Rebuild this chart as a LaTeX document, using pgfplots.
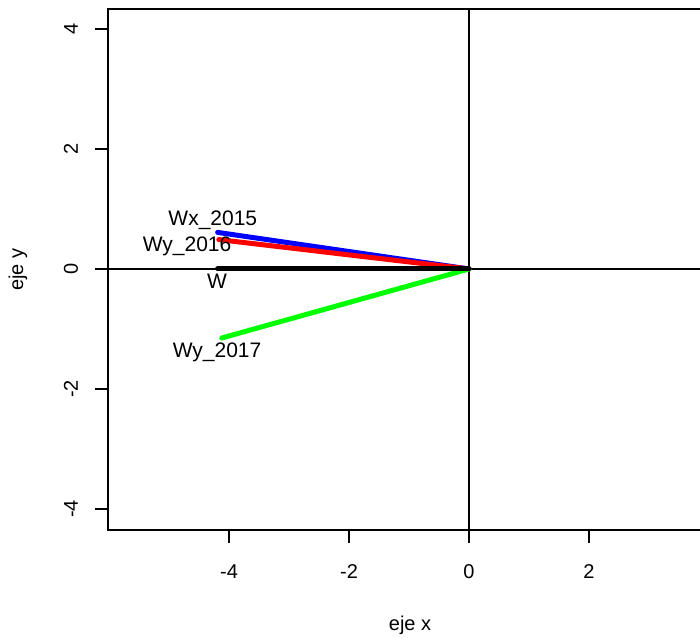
\documentclass[border=0pt]{standalone}
\usepackage{pgfplots}
\pgfplotsset{compat=1.18}
\usepackage{fontspec}
\setmainfont{Liberation Sans}
\definecolor{rblue}{RGB}{0,0,255}
\definecolor{rred}{RGB}{255,0,0}
\definecolor{rgreen}{RGB}{0,255,0}
\begin{document}
\begin{tikzpicture}[x=1pt,y=1pt]
\useasboundingbox (0,0) rectangle (700,637);
\begin{axis}[
  at={(108pt,107pt)}, anchor=south west,
  scale only axis, width=604pt, height=521pt,
  xmin=-6.017, xmax=4.05, ymin=-4.35, ymax=4.333,
  xtick={-4,-2,0,2}, ytick={-4,-2,0,2,4},
  tick align=outside, xtick pos=left, ytick pos=left,
  major tick length=13pt,
  every tick/.style={black, line width=1.1pt},
  axis line style={black, line width=1.1pt},
  font=\fontsize{20}{24}\selectfont,
  /pgf/number format/assume math mode=true,
  xticklabel style={anchor=base},
  yticklabel style={rotate=90, anchor=base},
  xticklabel shift=35pt,
  yticklabel shift=17pt,
  xlabel={eje x}, ylabel={eje y},
  xlabel style={at={(axis description cs:0.5,-0.192)}, anchor=base},
  ylabel style={at={(axis description cs:-0.149,0.5)}, anchor=center, rotate=0},
  clip=false,
]
\addplot[black, line width=1.1pt] coordinates {(-6.017,0) (4.05,0)};
\addplot[black, line width=1.1pt] coordinates {(0,-4.35) (0,4.333)};
\addplot[rblue, line width=5pt, line cap=round] coordinates {(0,0) (-4.19,0.61)};
\addplot[rred, line width=5pt, line cap=round] coordinates {(0,0) (-4.17,0.49)};
\addplot[rgreen, line width=5pt, line cap=round] coordinates {(0,0) (-4.12,-1.15)};
\addplot[black, line width=5pt, line cap=round] coordinates {(0,0) (-4.19,0)};
\begin{scope}[font=\fontsize{21}{25}\selectfont]
\node[anchor=base] at (axis cs:-4.27,0.717) {Wx\_2015};
\node[anchor=base] at (axis cs:-4.7,0.29) {Wy\_2016};
\node[anchor=base] at (axis cs:-4.2,-0.317) {W};
\node[anchor=base] at (axis cs:-4.2,-1.467) {Wy\_2017};
\end{scope}
\end{axis}
\end{tikzpicture}
\end{document}
